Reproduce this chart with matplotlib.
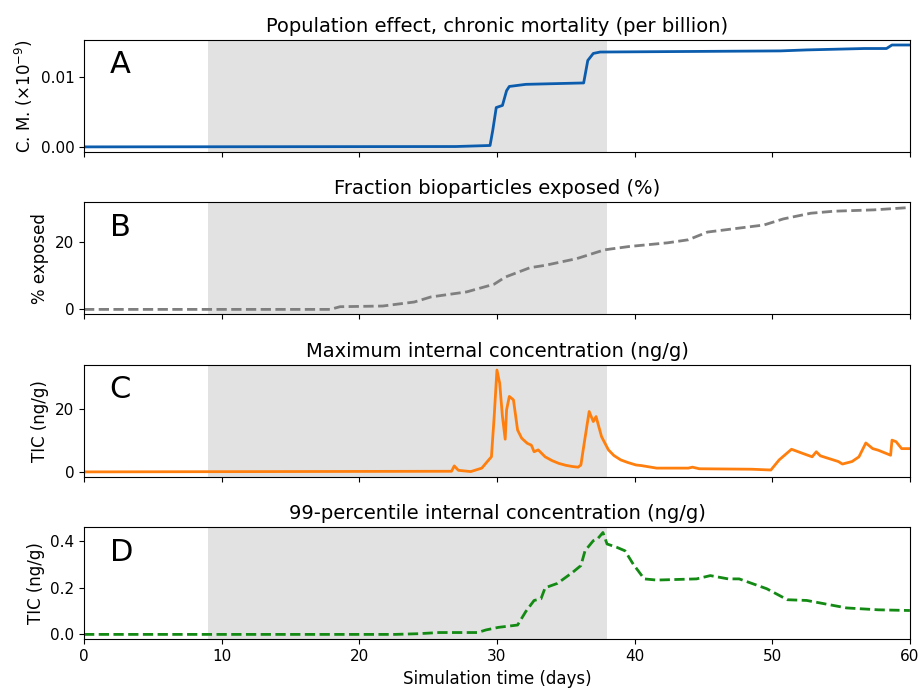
import matplotlib
matplotlib.use("Agg")
import matplotlib.pyplot as plt
from matplotlib.ticker import FormatStrFormatter

# Panel A: chronic mortality (x1e-9)
a_days = [0, 27.0, 29.5, 29.7, 29.95, 30.4, 30.7, 30.9, 32.1, 36.3, 36.6, 37.0, 37.5,
          50.6, 52.5, 56.7, 58.3, 58.7, 60]
a_vals = [0, 0.00005, 0.0002, 0.0024, 0.0056, 0.0059, 0.0080, 0.0086, 0.0089, 0.0091,
          0.0123, 0.0133, 0.0135, 0.01366, 0.0138, 0.0140, 0.0140, 0.0145, 0.0145]

# Panel B: fraction exposed (%)
b_days = [0, 17.9, 18.6, 21.7, 24.0, 25.2, 27.8, 29.8, 30.6, 32.4, 33.5, 35.8, 37.8,
          39.6, 42.4, 43.9, 45.3, 49.4, 50.8, 52.8, 54.5, 57.4, 60]
b_vals = [0, 0, 0.8, 1.0, 2.2, 3.7, 5.2, 7.5, 9.6, 12.4, 13.1, 15.1, 17.7,
          18.7, 19.8, 20.7, 23.0, 25.1, 26.9, 28.6, 29.2, 29.6, 30.3]

# Panel C: maximum internal concentration (ng/g)
c_days = [0, 26.7, 26.9, 27.2, 28.1, 28.9, 29.4, 29.6, 29.8, 30.0, 30.2, 30.4, 30.6,
          30.7, 30.9, 31.2, 31.5, 31.8, 32.2, 32.5, 32.7, 33.0, 33.5, 34.0, 34.5, 35.0,
          35.5, 35.9, 36.1, 36.3, 36.7, 37.0, 37.2, 37.6, 38.1, 38.5, 39.0, 39.5, 40.1,
          40.5, 41.6, 43.9, 44.2, 44.7, 48.5, 49.9, 50.5, 51.4, 52.2, 52.9, 53.2, 53.5,
          54.8, 55.1, 55.8, 56.3, 56.8, 57.3, 57.7, 58.6, 58.7, 59.0, 59.4, 60]
c_vals = [0, 0.2, 1.9, 0.5, 0.1, 1.2, 3.8, 4.8, 17.6, 32.4, 28.2, 17.6, 10.4,
          19.7, 24.0, 22.9, 13.3, 10.7, 9.1, 8.5, 6.4, 7.0, 4.8, 3.6, 2.7, 2.1,
          1.7, 1.5, 2.2, 8.0, 19.2, 16.0, 17.6, 11.2, 7.0, 5.2, 3.8, 3.0, 2.2,
          2.0, 1.2, 1.2, 1.5, 1.0, 0.85, 0.6, 3.8, 7.2, 5.9, 4.8, 6.4, 5.1,
          3.3, 2.5, 3.3, 4.8, 9.2, 7.4, 6.9, 5.3, 10.1, 9.6, 7.4, 7.4]

# Panel D: 99-percentile internal concentration (ng/g)
d_days = [0, 22.6, 24.3, 25.8, 28.6, 29.2, 30.1, 31.5, 32.1, 32.7, 33.2, 33.5, 34.4,
          35.5, 36.1, 36.4, 37.0, 37.3, 37.7, 38.0, 38.7, 39.3, 39.9, 40.7, 41.6,
          44.5, 45.5, 46.8, 47.6, 49.6, 51.1, 52.5, 55.4, 57.7, 60]
d_vals = [0, 0, 0.003, 0.008, 0.008, 0.019, 0.03, 0.04, 0.098, 0.145, 0.152, 0.199, 0.218,
          0.265, 0.294, 0.357, 0.40, 0.407, 0.435, 0.386, 0.372, 0.357, 0.30, 0.237, 0.232,
          0.237, 0.251, 0.237, 0.237, 0.195, 0.148, 0.145, 0.113, 0.105, 0.102]

spill_start, spill_end = 9, 38

fig, axes = plt.subplots(4, 1, figsize=(9.2, 6.88), dpi=100, sharex=True)
fig.subplots_adjust(left=0.0913, right=0.989, top=0.942, bottom=0.0705, hspace=0.45)

panels = [
    (a_days, a_vals, "#0b5cad", "-", "Population effect, chronic mortality (per billion)",
     r"C. M. ($\times10^{-9}$)", "A"),
    (b_days, b_vals, "#7f7f7f", "--", "Fraction bioparticles exposed (%)", "% exposed", "B"),
    (c_days, c_vals, "#ff7f0e", "-", "Maximum internal concentration (ng/g)", "TIC (ng/g)", "C"),
    (d_days, d_vals, "#138a13", "--", "99-percentile internal concentration (ng/g)", "TIC (ng/g)", "D"),
]

for ax, (x, y, col, ls, title, ylab, letter) in zip(axes, panels):
    ax.axvspan(spill_start, spill_end, color="#e2e2e2", zorder=0, lw=0)
    ax.plot(x, y, color=col, ls=ls, lw=2)
    ax.set_title(title, fontsize=14)
    ax.set_ylabel(ylab, fontsize=12)
    ax.tick_params(labelsize=11)
    ax.text(0.031, 0.78, letter, transform=ax.transAxes, fontsize=22, va="center")

axes[0].yaxis.set_major_formatter(FormatStrFormatter("%.2f"))
axes[0].set_yticks([0, 0.01])
axes[1].set_yticks([0, 20])
axes[2].set_yticks([0, 20])
axes[3].set_yticks([0, 0.2, 0.4])
axes[3].yaxis.set_major_formatter(FormatStrFormatter("%.1f"))
axes[3].set_xlim(0, 60)
axes[3].set_xlabel("Simulation time (days)", fontsize=12)

plt.savefig("out.png", dpi=100)
